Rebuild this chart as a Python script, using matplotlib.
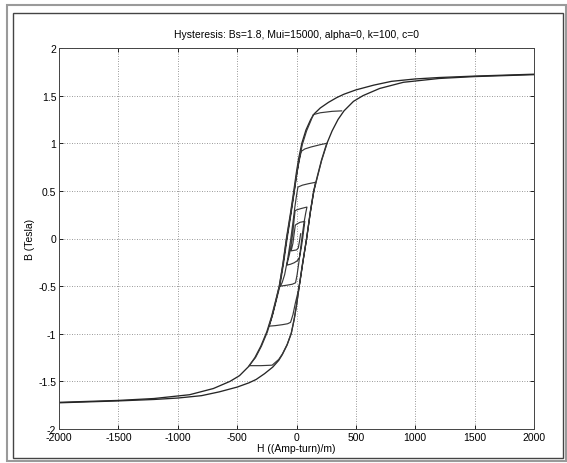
import matplotlib
matplotlib.use("Agg")
import matplotlib.pyplot as plt
from matplotlib.patches import Rectangle

plt.rcParams['font.family'] = ['Liberation Sans', 'DejaVu Sans']

# Major loop - descending branch (H decreasing)
desc_H = [2000, 1500, 1200, 1000, 800, 650, 500, 400, 340, 270, 200, 150, 120, 80, 45, 20, 0,
          -25, -50, -85, -115, -145, -175, -210, -250, -300, -350, -400, -480, -560, -700,
          -900, -1200, -1500, -2000]
desc_B = [1.725, 1.705, 1.69, 1.675, 1.65, 1.61, 1.56, 1.515, 1.48, 1.43, 1.37, 1.31, 1.25,
          1.14, 1.0, 0.85, 0.70, 0.48, 0.27, 0.0, -0.27, -0.5, -0.65, -0.82, -0.98, -1.13,
          -1.25, -1.34, -1.44, -1.50, -1.575, -1.64, -1.68, -1.70, -1.72]

# Major loop - ascending branch (H increasing)
asc_H = [-2000, -1500, -1200, -1000, -800, -650, -500, -400, -340, -270, -200, -150, -120,
         -80, -45, -20, 0, 25, 50, 85, 115, 145, 175, 210, 250, 300, 350, 400, 480, 560,
         700, 900, 1200, 1500, 2000]
asc_B = [-1.725, -1.705, -1.69, -1.675, -1.65, -1.61, -1.56, -1.515, -1.48, -1.42, -1.35,
         -1.28, -1.22, -1.12, -1.0, -0.85, -0.70, -0.48, -0.27, 0.0, 0.27, 0.5, 0.65, 0.82,
         0.98, 1.13, 1.25, 1.34, 1.44, 1.50, 1.575, 1.64, 1.68, 1.70, 1.72]

# Decaying minor-loop trajectory
minor_H = [380, 300, 200, 140, 122, 85, 50, 24, 4, -21, -46, -80, -110, -140, -170, -205,
           -245, -295, -345, -400,
           -300, -205, -150, -118, -78, -43, -18, 2, 27, 52, 87, 117, 147, 177, 212, 258,
           200, 120, 70, 40, 20, 0, -25, -50, -85, -115, -145, -175, -200, -231,
           -180, -120, -75, -50, -30, -10, 15, 30, 55, 85, 115, 140, 160,
           100, 50, 12, 0, -15, -30, -50, -75, -100, -120, -135,
           -80, -35, -8, 5, 20, 35, 50, 65, 78, 88,
           40, 0, -12, -20, -30, -45, -60, -82,
           -50, -20, 5, 25, 40, 52, 62, 70,
           30, 0, -10, -20, -30, -45,
           0, 15, 25, 35]
minor_B = [1.34, 1.335, 1.32, 1.30, 1.24, 1.13, 0.99, 0.84, 0.69, 0.47, 0.26, -0.01, -0.27,
           -0.5, -0.65, -0.82, -0.98, -1.13, -1.25, -1.335,
           -1.335, -1.33, -1.27, -1.21, -1.11, -0.99, -0.84, -0.69, -0.47, -0.26, 0.01,
           0.28, 0.5, 0.65, 0.82, 1.0,
           0.985, 0.96, 0.94, 0.915, 0.80, 0.66, 0.45, 0.25, -0.02, -0.28, -0.5, -0.66,
           -0.79, -0.92,
           -0.915, -0.905, -0.895, -0.88, -0.80, -0.68, -0.55, -0.45, -0.24, 0.0, 0.26,
           0.46, 0.59,
           0.575, 0.56, 0.54, 0.45, 0.32, 0.17, -0.02, -0.22, -0.38, -0.46, -0.5,
           -0.49, -0.48, -0.465, -0.38, -0.25, -0.1, 0.05, 0.18, 0.27, 0.33,
           0.315, 0.30, 0.29, 0.20, 0.07, -0.07, -0.17, -0.28,
           -0.27, -0.255, -0.235, -0.2, -0.1, 0.0, 0.1, 0.18,
           0.17, 0.15, 0.14, 0.05, -0.05, -0.13,
           -0.12, -0.1, -0.03, 0.05]

x_ticks = [-2000, -1500, -1000, -500, 0, 500, 1000, 1500, 2000]
y_ticks = [-2, -1.5, -1, -0.5, 0, 0.5, 1, 1.5, 2]
y_labels = ['-2', '-1.5', '-1', '-0.5', '0', '0.5', '1', '1.5', '2']

fig = plt.figure(figsize=(5.67, 4.64), dpi=100)
W, Hh = 567, 464
ax = fig.add_axes([59 / W, (Hh - 430) / Hh, (534 - 59) / W, (430 - 49) / Hh])

line_kw = dict(color='#262626', lw=0.95)
ax.plot(desc_H, desc_B, **line_kw)
ax.plot(asc_H, asc_B, **line_kw)
ax.plot(minor_H, minor_B, color='#383838', lw=0.85)

ax.set_xlim(-2000, 2000)
ax.set_ylim(-2, 2)
ax.set_xticks(x_ticks)
ax.set_xticklabels([str(v) for v in x_ticks])
ax.set_yticks(y_ticks)
ax.set_yticklabels(y_labels)
ax.grid(True, linestyle=(0, (1, 2)), color='#777777', lw=0.6)
ax.tick_params(direction='in', length=3, labelsize=7.5, width=0.6, pad=2,
               top=True, right=True)
for s in ax.spines.values():
    s.set_linewidth(0.7)
    s.set_color('#444444')

ax.set_title('Hysteresis: Bs=1.8, Mui=15000, alpha=0, k=100, c=0', fontsize=7.5, pad=8)
ax.set_xlabel('H ((Amp-turn)/m)', fontsize=7.5, labelpad=1)
ax.set_ylabel('B (Tesla)', fontsize=7.5, labelpad=2)

# window frame
def px_rect(x0, y0, x1, y1, **kw):
    fig.patches.append(Rectangle((x0 / W, 1 - y1 / Hh), (x1 - x0) / W, (y1 - y0) / Hh,
                                 transform=fig.transFigure, fill=False, **kw))

px_rect(7, 6, 566, 462, edgecolor='#9a9a9a', lw=1.5)
px_rect(13, 14, 563, 459, edgecolor='#444444', lw=1.0)

fig.savefig('out.png', dpi=100)
